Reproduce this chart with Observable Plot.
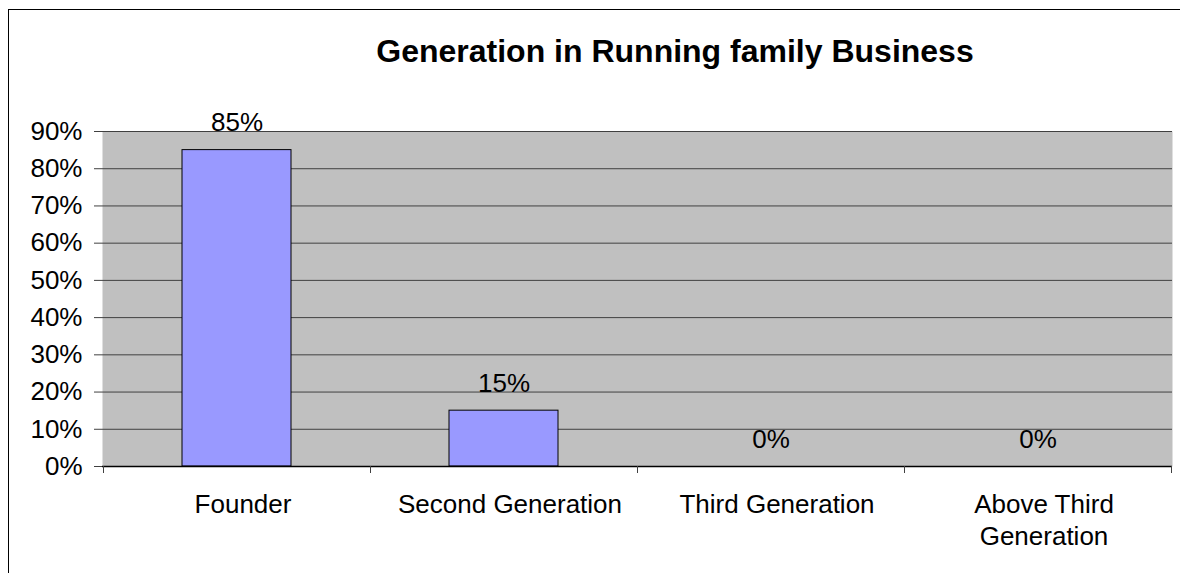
<!DOCTYPE html>
<html>
<head>
<meta charset="utf-8">
<script src="https://cdn.jsdelivr.net/npm/d3@7"></script>
<script src="https://cdn.jsdelivr.net/npm/@observablehq/plot@0.6"></script>
<style>
  html, body { margin: 0; padding: 0; background: #fff; }
  body { width: 1180px; height: 573px; position: relative; overflow: hidden; font-family: "Liberation Sans", Arial, sans-serif; }
  #frame { position: absolute; left: 8px; top: 9px; width: 1200px; height: 600px; border: 1.5px solid #000; box-sizing: border-box; }
  #title { position: absolute; left: 375px; width: 600px; top: 33px; text-align: center; font-weight: bold; font-size: 32px; line-height: 36px; color: #000; white-space: nowrap; }
  #chart { position: absolute; left: 0; top: 0; }
</style>
</head>
<body>
<div id="frame"></div>
<div id="title">Generation in Running family Business</div>
<div id="chart"></div>
<script>
const categories = ["Founder", "Second Generation", "Third Generation", "Above Third Generation"];
const categoryLabels = ["Founder", "Second Generation", "Third Generation", "Above Third\nGeneration"];
const values = [0.85, 0.15, 0, 0];
const yTicks = [0, 0.1, 0.2, 0.3, 0.4, 0.5, 0.6, 0.7, 0.8, 0.9];

const data = categories.map((c, i) => ({cat: c, label: categoryLabels[i], value: values[i]}));
const pct = d3.format(".0%");

// boundary ticks between category bands
function boundaryTicks(index, scales, values, dims) {
  const x = scales.x, y = scales.y;
  const bw = typeof x.bandwidth === "function" ? x.bandwidth() : x.bandwidth;
  const step = x(categories[1]) - x(categories[0]);
  const y0 = y(0);
  const g = d3.create("svg:g").attr("stroke", "#404040").attr("stroke-width", 1);
  const xs = categories.map(c => x(c) + bw / 2 - step / 2);
  xs.push(x(categories[categories.length - 1]) + bw / 2 + step / 2);
  for (const xv of xs) {
    g.append("line").attr("x1", Math.round(xv) + 0.5).attr("x2", Math.round(xv) + 0.5).attr("y1", y0).attr("y2", y0 + 7);
  }
  return g.node();
}

const chart = Plot.plot({
  width: 1180,
  height: 573,
  marginLeft: 102,
  marginRight: 8,
  marginTop: 131,
  marginBottom: 107,
  style: {fontFamily: "'Liberation Sans', Arial, sans-serif", fontSize: "26px", color: "#000", background: "transparent"},
  x: {domain: categories, paddingInner: 0.5925, paddingOuter: 0.29625, axis: null},
  y: {domain: [0, 0.9], axis: null},
  marks: [
    Plot.frame({fill: "#C0C0C0", stroke: "none"}),
    Plot.ruleY(yTicks, {y: d => d, stroke: "#404040", strokeWidth: 1}),
    Plot.ruleX([0], {frameAnchor: "right", stroke: "#808080", strokeWidth: 1.5}),
    Plot.barY(data, {x: "cat", y: "value", fill: "#9999FF", stroke: "#000", strokeWidth: 1}),
    Plot.ruleY([0], {stroke: "#000", strokeWidth: 1.5}),
    Plot.axisY({ticks: yTicks, tickFormat: pct, tickSize: 8, tickPadding: 12, stroke: "#404040", fontSize: 26, fill: "#000", label: null}),
    Plot.ruleX([0], {frameAnchor: "left", y1: 0, y2: 0.9, stroke: "#404040", strokeWidth: 1.5}),
    boundaryTicks,
    Plot.text(data, {x: "cat", y: "value", text: d => pct(d.value), lineAnchor: "middle", dy: -27, fontSize: 26, fill: "#000"}),
    Plot.text(data, {x: "cat", text: "label", frameAnchor: "bottom", lineAnchor: "top", dx: 6, dy: 23, lineHeight: 1.25, fontSize: 26, fill: "#000"})
  ]
});
document.getElementById("chart").appendChild(chart);
</script>
</body>
</html>
